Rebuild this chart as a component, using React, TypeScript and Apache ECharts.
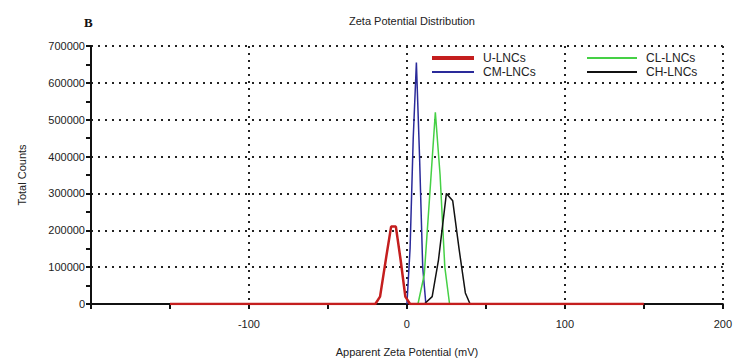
import React, { useEffect, useRef } from "react";
import * as echarts from "echarts";

const uX = [-150, -20, -17, -13, -10, -7, -4, -1, 2, 150];
const uY = [0, 0, 20000, 130000, 210000, 210000, 120000, 20000, 0, 0];
const cmX = [0, 2, 4, 6, 8, 10, 12];
const cmY = [0, 150000, 450000, 655000, 400000, 100000, 0];
const clX = [7, 11, 15, 18, 21, 24, 27];
const clY = [0, 80000, 330000, 520000, 350000, 100000, 0];
const chX = [11, 16, 20, 25, 29, 33, 37, 40];
const chY = [0, 20000, 120000, 300000, 280000, 150000, 30000, 0];

const pairs = (xs: number[], ys: number[]) => xs.map((x, i) => [x, ys[i]]);

const FONT = "Liberation Sans";

export default function App() {
  const ref = useRef<HTMLDivElement>(null);
  useEffect(() => {
    const chart = echarts.init(ref.current!, null, { renderer: "svg" });
    const dotted = { type: [2, 5] as any, color: "#222", width: 2 };
    const legendBase = {
      orient: "vertical" as const,
      itemHeight: 2,
      itemGap: 2,
      icon: "rect",
      selectedMode: false,
      textStyle: { fontFamily: FONT, fontSize: 12, color: "#222", padding: [0, 0, 0, 4] },
      padding: 0,
    };
    chart.setOption({
      animation: false,
      backgroundColor: "#fff",
      title: {
        text: "Zeta Potential Distribution",
        left: 407,
        textAlign: "center",
        top: 10,
        textStyle: { fontFamily: FONT, fontSize: 11, fontWeight: "normal", color: "#222" },
      },
      graphic: [
        {
          type: "text",
          left: 84,
          top: 16,
          style: { text: "B", font: "bold 13px 'Liberation Serif'", fill: "#111" },
        },
      ],
      legend: [
        { ...legendBase, left: 432, top: 52, itemWidth: 42, itemHeight: 4, data: ["U-LNCs"] },
        { ...legendBase, left: 432, top: 66, itemWidth: 42, data: ["CM-LNCs"] },
        { ...legendBase, left: 587, top: 52, itemWidth: 50, data: ["CL-LNCs"] },
        { ...legendBase, left: 587, top: 66, itemWidth: 50, data: ["CH-LNCs"] },
      ],
      grid: { left: 91, right: 12, top: 46, bottom: 56 },
      xAxis: {
        type: "value",
        min: -200,
        max: 200,
        interval: 100,
        name: "Apparent Zeta Potential (mV)",
        nameLocation: "middle",
        nameGap: 42,
        nameTextStyle: { fontFamily: FONT, fontSize: 11, color: "#222" },
        axisLine: { onZero: false, lineStyle: { color: "#111", width: 2 } },
        axisTick: { show: true, length: 5, lineStyle: { color: "#111", width: 2 } },
        minorTick: { show: true, splitNumber: 2, length: 5, lineStyle: { color: "#111", width: 2 } },
        axisLabel: {
          fontFamily: FONT,
          fontSize: 11,
          color: "#222",
          margin: 14,
          formatter: (v: number) => (v === -200 ? "" : String(v)),
        },
        splitLine: { show: true, lineStyle: dotted },
      },
      yAxis: {
        type: "value",
        min: 0,
        max: 700000,
        interval: 100000,
        name: "Total Counts",
        nameLocation: "middle",
        nameGap: 64,
        nameTextStyle: { fontFamily: FONT, fontSize: 11, color: "#222" },
        axisLine: { show: true, onZero: false, lineStyle: { color: "#111", width: 2 } },
        axisTick: { show: true, length: 5, lineStyle: { color: "#111", width: 2 } },
        minorTick: { show: true, splitNumber: 2, length: 5, lineStyle: { color: "#111", width: 2 } },
        axisLabel: {
          fontFamily: FONT,
          fontSize: 11,
          color: "#222",
          margin: 6,
          formatter: (v: number) => String(v),
        },
        splitLine: { show: true, lineStyle: dotted },
      },
      series: [
        {
          name: "CM-LNCs",
          type: "line",
          symbol: "none",
          data: pairs(cmX, cmY),
          lineStyle: { color: "#2a2a9a", width: 1.5 },
          itemStyle: { color: "#2a2a9a" },
        },
        {
          name: "CL-LNCs",
          type: "line",
          symbol: "none",
          data: pairs(clX, clY),
          lineStyle: { color: "#45d045", width: 1.5 },
          itemStyle: { color: "#45d045" },
        },
        {
          name: "CH-LNCs",
          type: "line",
          symbol: "none",
          data: pairs(chX, chY),
          lineStyle: { color: "#111", width: 1.5 },
          itemStyle: { color: "#111" },
        },
        {
          name: "U-LNCs",
          type: "line",
          symbol: "none",
          data: pairs(uX, uY),
          lineStyle: { color: "#c41e1e", width: 2.5 },
          itemStyle: { color: "#c41e1e" },
          z: 3,
        },
      ],
    });
    return () => chart.dispose();
  }, []);
  return (
    <div
      ref={ref}
      style={{ position: "fixed", left: 0, top: 0, width: 735, height: 362, background: "#fff" }}
    />
  );
}
